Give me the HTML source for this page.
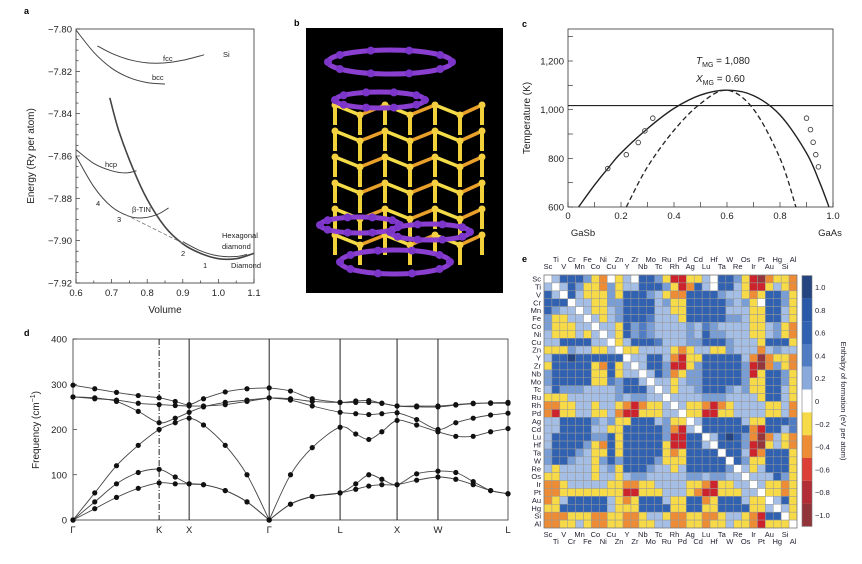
<!DOCTYPE html>
<html><head><meta charset="utf-8"><style>
html,body{margin:0;padding:0;background:#fff;}
svg{display:block;font-family:"Liberation Sans",Arial,sans-serif;}
</style></head><body>
<svg id="fig" width="862" height="564" viewBox="0 0 862 564" xmlns="http://www.w3.org/2000/svg">
<g id="pa"></g>
<g id="pb"></g>
<g id="pc"></g>
<g id="pd"></g>
<g id="pe"></g>
</svg>
<script>
// ---------- Panel a data ----------
const aFcc=[[0.66,-7.808],[0.7,-7.8115],[0.75,-7.8145],[0.8,-7.816],[0.85,-7.816],[0.9,-7.8148],[0.96,-7.8122]];
const aBcc=[[0.6,-7.8005],[0.65,-7.811],[0.7,-7.8185],[0.75,-7.823],[0.8,-7.8253],[0.85,-7.826]];
const aHcp=[[0.6,-7.857],[0.65,-7.8635],[0.7,-7.867],[0.74,-7.868],[0.77,-7.867]];
const aTin=[[0.6,-7.86],[0.65,-7.8745],[0.7,-7.884],[0.75,-7.8885],[0.79,-7.8892],[0.83,-7.8875],[0.86,-7.8845]];
const aDiamond=[[0.695,-7.8325],[0.72,-7.848],[0.76,-7.866],[0.8,-7.8805],[0.85,-7.8935],[0.9,-7.9015],[0.95,-7.906],[1.0,-7.9085],[1.05,-7.9085],[1.1,-7.906]];
const aHex=[[0.9,-7.9005],[0.95,-7.9048],[1.0,-7.9072],[1.05,-7.9075],[1.08,-7.9065]];
const aTangent=[[0.74,-7.8878],[0.9,-7.9012]];
const aYTicks=[-7.80,-7.82,-7.84,-7.86,-7.88,-7.90,-7.92];
const aXTicks=[0.6,0.7,0.8,0.9,1.0,1.1];
// ---------- Panel c data ----------
const cBinodal=[[0.04,600],[0.1,690],[0.15,758],[0.2,822],[0.3,922],[0.4,1005],[0.5,1060],[0.6,1080],[0.7,1058],[0.8,978],[0.9,822],[0.95,700],[0.985,600]];
const cSpinodal=[[0.22,600],[0.3,765],[0.4,915],[0.5,1025],[0.6,1080],[0.7,1002],[0.8,800],[0.86,600]];
const cExpX=[0.15,0.22,0.265,0.29,0.32,0.9,0.915,0.925,0.935,0.945];
const cExpT=[758,815,865,913,965,965,918,866,815,765];
const cLineT=1017;
const cYTicks=[600,800,1000,1200];
const cXTicks=[0,0.2,0.4,0.6,0.8,1.0];
// ---------- Panel d data ----------
const dK=[0,0.05,0.1,0.15,0.198,0.235,0.267,0.3,0.35,0.4,0.451,0.5,0.55,0.614,0.65,0.68,0.71,0.745,0.79,0.839,0.88,0.92,0.96,1];
const dTA1=[0,25,50,70,82,80,80,78,65,40,0,35,52,60,68,75,78,78,88,95,90,78,65,58];
const dTA2=[0,40,80,105,112,95,80,78,65,40,0,35,52,60,80,100,90,78,102,108,105,85,65,58];
const dLA=[0,60,120,165,200,215,225,210,165,100,0,100,160,205,190,178,195,220,210,195,185,185,195,202];
const dLO=[272,270,262,240,215,225,238,250,260,265,270,265,252,238,235,233,235,237,222,200,215,225,232,236];
const dTO1=[298,290,282,275,270,262,255,268,283,290,292,285,268,260,260,260,258,252,252,252,255,258,258,258];
const dTO2=[272,268,265,258,255,253,252,252,255,262,270,268,262,260,263,264,258,252,250,250,254,257,259,260];
const dSymPos=[0,0.198,0.267,0.451,0.614,0.745,0.839,1];
const dSymLabels=["Γ","K","X","Γ","L","X","W","L"];
const dYTicks=[0,100,200,300,400];
// ---------- Panel e data ----------
const eElements=["Sc","Ti","V","Cr","Mn","Fe","Co","Ni","Cu","Zn","Y","Zr","Nb","Mo","Tc","Ru","Rh","Pd","Ag","Cd","Lu","Hf","Ta","W","Re","Os","Ir","Pt","Au","Hg","Si","Al"];
const eValues=[
[0,0.12,0.6,0.6,0.6,0.25,-0.2,-0.4,0,-0.2,0.12,0,0.6,0.6,0.25,-0.2,-0.7,-0.7,-0.2,-0.2,0.12,0,0.6,0.6,0.25,-0.2,-0.7,-0.95,-0.4,-0.2,-0.2,-0.4],
[0.12,0,0.12,0.6,0.25,-0.2,-0.2,-0.4,0.25,-0.2,0.12,0.12,0.6,0.6,0.6,0.25,-0.2,-0.7,-0.4,0.6,0.12,0,0.6,0.6,0.12,-0.2,-0.7,-0.7,-0.2,0.12,-0.2,-0.4],
[0.6,0.12,0,0.6,0.12,-0.2,-0.2,-0.2,0.25,-0.2,0.6,0.6,0.6,0.25,0.12,-0.2,-0.4,-0.4,0.6,0.6,0.6,0.6,0.25,0.12,0.12,-0.2,-0.4,-0.2,0.6,0.6,0.25,-0.2],
[0.6,0.6,0.6,0,0.12,0.12,-0.2,-0.2,0.25,0.25,0.6,0.6,0.6,0.6,0.12,0.25,-0.2,-0.2,0.6,0.6,0.6,0.6,0.6,0.25,0.12,0.25,-0.2,0,0.6,0.6,0.25,-0.2],
[0.6,0.25,0.12,0.12,0,0.12,-0.2,-0.2,0.12,0.25,0.6,0.6,0.6,0.6,0.12,0.12,-0.2,-0.2,0.6,0.6,0.6,0.6,0.6,0.12,0.12,0.12,-0.2,-0.2,0.6,0.6,0.12,-0.2],
[0.25,-0.2,-0.2,0.12,0.12,0,0.12,-0.2,0.12,0.25,0.6,0.6,0.6,0.4,0.12,0.12,0.12,-0.2,0.6,0.6,0.6,0.6,0.6,0.25,0.25,0.12,-0.2,-0.2,0.6,0.6,0.12,-0.2],
[0.25,-0.2,-0.2,-0.2,0.12,0.12,0,0.12,0.12,-0.2,0.6,0.25,0.4,0.25,0.12,0.12,0.12,0.12,0.25,0.12,0.4,0.25,0.12,0.12,0.12,0.12,-0.2,-0.2,0.12,0.25,-0.2,-0.4],
[0.12,-0.2,-0.2,-0.2,0.12,-0.2,0.12,0,0.12,-0.2,0.6,0.25,0.4,0.25,0.12,0.12,0.12,0.12,0.25,0.12,0.6,0.25,0.25,0.12,0.12,0.12,-0.2,-0.2,0.12,0.25,-0.2,-0.4],
[0.12,0.12,0.6,0.6,0.6,0.6,0.12,0.12,0,-0.2,0.12,0.6,0.6,0.6,0.4,0.12,0.12,0.12,0.25,0.25,0.6,0.6,0.6,0.25,0.12,0.12,0.12,-0.2,0.6,0.6,0.6,-0.2],
[-0.2,-0.2,-0.2,0.25,0.12,0.12,-0.2,-0.2,0.12,0,-0.2,-0.2,0.12,0.12,0.12,0.12,-0.2,-0.4,-0.2,0.12,0.12,-0.2,-0.2,0.25,0.12,0.12,0.12,-0.4,0.12,0.25,0.12,0.12],
[0.12,0.6,0.6,1.0,0.6,0.6,0.6,0.6,0.6,0.6,0,0.12,0.12,0.6,0.6,0.12,-0.4,-0.7,-0.2,-0.2,0.6,0.6,0.6,0.6,0.6,0.12,-0.4,-0.95,-0.4,-0.2,-0.2,-0.4],
[-0.2,0.6,0.6,0.6,0.6,0.6,-0.2,-0.4,0.6,-0.2,0.12,0,0.12,0.6,0.6,0.25,-0.7,-0.7,-0.2,0.25,0.6,0.6,0.6,0.6,0.6,0.25,-0.7,-0.95,-0.4,0.25,-0.2,-0.4],
[0.25,0.6,0.6,0.6,0.6,0.6,-0.2,-0.2,0.6,-0.2,0.12,0.12,0,0.12,0.6,0.25,-0.4,-0.2,0.25,0.25,0.6,0.6,0.6,0.6,0.6,0.25,-0.7,-0.2,0.6,0.6,0.25,-0.2],
[0.25,0.6,0.6,0.6,0.6,0.6,-0.2,-0.2,0.4,0.25,0.6,0.6,0.12,0,0.12,0.12,-0.2,0.12,0.25,0.25,0.6,0.6,0.6,0.6,0.6,0.25,-0.2,-0.2,0.6,0.6,0.25,-0.2],
[0.12,0.6,0.25,0.25,0.25,0.12,0.12,0.12,0.12,0.25,0.6,0.6,0.6,0.12,0,0.12,-0.2,0.12,0.12,0.25,0.6,0.6,0.6,0.25,0.12,0.25,-0.2,-0.2,0.6,0.6,0.12,-0.2],
[-0.2,-0.2,-0.2,0.12,0.12,0.12,0.12,0.12,0.12,0.25,0.12,0.25,0.25,0.12,0.12,0,0.12,0.12,0.12,0.12,0.25,0.25,0.25,0.12,0.12,0.12,0.12,-0.2,0.6,0.6,0.12,-0.2],
[-0.4,-0.4,-0.2,-0.2,0.12,0.12,-0.2,0.12,0.12,-0.2,-0.4,-0.7,-0.4,-0.2,-0.2,0.12,0,0.12,-0.2,-0.2,-0.4,-0.7,-0.4,-0.2,0.12,0.12,0.12,0.12,-0.2,-0.2,0.12,-0.4],
[-0.4,-0.7,-0.2,-0.2,0.12,0.12,-0.2,-0.2,0.12,-0.4,-0.7,-0.7,-0.2,-0.2,-0.2,0.12,0.12,0,-0.2,-0.2,-0.7,-0.7,-0.2,-0.2,0.12,0.12,0.12,0.12,-0.2,-0.2,0.12,-0.4],
[0.12,0.12,0.6,0.6,0.6,0.6,0.25,0.12,0.25,-0.2,-0.2,0.6,0.6,0.6,0.12,0.25,-0.2,-0.2,0,0.12,0.6,0.6,0.6,0.6,0.6,0.12,-0.2,-0.2,0.6,0.6,0.6,0.4],
[0.12,0.12,0.6,0.6,0.6,0.6,0.12,0.12,-0.2,-0.2,0.6,0.6,0.6,0.6,0.6,0.25,-0.4,-0.7,0.12,0,0.6,0.6,0.6,0.6,0.6,0.6,-0.4,-0.7,0.6,0.6,0.12,0.4],
[0.12,0.6,0.6,0.6,0.6,0.6,0.25,0.25,0.6,-0.2,0.6,0.6,0.6,0.6,0.6,0.25,-0.7,-0.7,0.6,0.6,0,0.12,0.6,1.0,0.6,0.25,-0.4,-0.95,-0.4,0.12,-0.2,-0.4],
[0.12,0.6,0.6,0.6,0.6,0.25,-0.2,-0.4,0.6,-0.2,0.6,0.6,0.6,0.6,0.6,-0.2,-0.7,-0.7,0.6,0.6,0.12,0,0.6,0.6,0.6,0.25,-0.7,-0.95,-0.2,0.12,-0.2,-0.4],
[0.25,0.6,0.6,0.6,0.25,0.12,-0.2,-0.2,0.6,-0.2,0.6,0.6,0.6,0.6,0.6,-0.2,-0.4,-0.2,0.6,0.6,0.6,0.6,0,0.6,0.6,0.12,-0.7,-0.4,0.6,0.6,0.6,-0.2],
[0.25,0.6,0.6,0.25,0.12,0.12,-0.2,0.25,0.6,0.25,0.6,0.6,0.6,0.6,0.25,-0.2,-0.2,-0.2,0.6,0.6,0.6,0.6,0.6,0,0.6,0.25,-0.2,-0.2,0.6,0.6,0.6,-0.2],
[0.12,-0.2,0.12,0.12,0.12,0.12,-0.2,0.12,0.25,-0.2,0.6,0.6,0.6,0.25,0.12,0.12,-0.2,0.12,0.6,0.6,0.6,0.6,0.6,0.25,0,0.12,-0.2,0.12,0.6,0.6,0.6,-0.2],
[-0.2,-0.2,0.12,0.12,0.12,0.12,-0.2,0.12,0.12,-0.2,0.12,0.25,0.25,0.12,0.12,0.12,0.12,0.12,0.25,0.25,0.12,0.25,0.25,0.12,0.12,0,0.12,0.12,0.12,0.6,0.25,-0.2],
[-0.4,-0.4,-0.2,0.12,0.12,0.12,0.12,0.12,-0.2,-0.2,-0.4,-0.4,-0.2,-0.2,0.12,0.12,0.12,0.12,-0.2,-0.2,-0.4,-0.7,-0.2,-0.2,0.12,0.12,0,0.12,-0.2,-0.2,-0.4,-0.2],
[-0.4,-0.4,-0.2,-0.2,-0.2,-0.2,-0.2,-0.2,-0.2,-0.2,-0.7,-0.7,-0.2,-0.2,-0.2,0.12,0.12,0.12,-0.2,-0.4,-0.7,-0.7,-0.2,-0.2,-0.2,0.12,0.12,0,-0.2,-0.2,-0.4,-0.2],
[-0.4,-0.2,0.12,0.6,0.6,0.6,0.6,0.6,0.12,-0.2,-0.4,-0.2,0.6,0.6,0.6,0.12,-0.2,-0.2,0.6,0.6,-0.4,-0.2,0.6,0.6,0.6,0.12,-0.2,-0.2,0,0.12,0.6,-0.2],
[-0.2,-0.2,0.6,0.6,0.6,0.6,0.6,0.6,0.12,-0.2,-0.2,-0.2,0.6,0.6,0.6,0.6,-0.2,-0.2,0.6,0.6,-0.2,-0.2,0.6,0.6,0.6,0.6,-0.2,-0.2,0.12,0,0.12,-0.2],
[-0.4,-0.4,-0.4,-0.2,-0.2,-0.2,-0.4,-0.4,-0.2,-0.2,-0.4,-0.4,-0.2,0.12,0.12,-0.2,-0.4,-0.4,-0.2,-0.2,-0.4,-0.4,-0.2,0.12,0.12,-0.2,-0.4,-0.7,0.6,0.6,0,-0.2],
[-0.4,-0.4,-0.2,-0.2,0.12,-0.2,-0.4,-0.4,-0.2,-0.2,-0.4,-0.4,-0.2,-0.2,0.12,0.12,-0.4,-0.4,-0.2,-0.2,-0.4,-0.2,-0.2,0.12,-0.2,-0.2,-0.4,-0.7,-0.2,-0.2,-0.2,0]
];
const eBarTicks=[1.0,0.8,0.6,0.4,0.2,0,-0.2,-0.4,-0.6,-0.8,-1.0];

const NS="http://www.w3.org/2000/svg";
function mk(parent,tag,attrs,text){const e=document.createElementNS(NS,tag);for(const k in attrs)e.setAttribute(k,attrs[k]);if(text!==undefined)e.textContent=text;parent.appendChild(e);return e;}
function smooth(pts){let d="M"+pts[0][0].toFixed(1)+","+pts[0][1].toFixed(1);for(let i=0;i<pts.length-1;i++){const p0=pts[Math.max(0,i-1)],p1=pts[i],p2=pts[i+1],p3=pts[Math.min(pts.length-1,i+2)];const c1=[p1[0]+(p2[0]-p0[0])/6,p1[1]+(p2[1]-p0[1])/6],c2=[p2[0]-(p3[0]-p1[0])/6,p2[1]-(p3[1]-p1[1])/6];d+=" C"+c1[0].toFixed(1)+","+c1[1].toFixed(1)+" "+c2[0].toFixed(1)+","+c2[1].toFixed(1)+" "+p2[0].toFixed(1)+","+p2[1].toFixed(1);}return d;}

// ---------- Panel a ----------
(function(){
const g=document.getElementById('pa');
const xs=v=>76+(v-0.6)/0.5*178, ys=e=>29+(-7.80-e)/0.12*254;
let t=mk(g,'text',{x:24,y:14,'font-size':9,'font-weight':'bold'},'a');

let r=mk(g,'rect',{x:76,y:29,width:178,height:254,fill:'none',stroke:'#333','stroke-width':0.8});

for(let k=0;k<=24;k++){const e=-7.80-k*0.005;const y=ys(e);mk(g,'line',{x1:76,x2:76+(k%4==0?4:2.5),y1:y,y2:y,stroke:'#333','stroke-width':0.7});}
aYTicks.forEach(v=>{const tt=mk(g,'text',{x:72,y:ys(v)+3.5,'font-size':9.5,'text-anchor':'end',fill:'#222'},'−'+Math.abs(v).toFixed(2));
});
for(let k=0;k<=10;k++){const x=xs(0.6+k*0.05);mk(g,'line',{x1:x,x2:x,y1:283,y2:283-(k%2==0?4:2.5),stroke:'#333','stroke-width':0.7});}
aXTicks.forEach(v=>{const tt=mk(g,'text',{x:xs(v),y:296,'font-size':9.5,'text-anchor':'middle',fill:'#222'},v.toFixed(1));
});
t=mk(g,'text',{x:165,y:313,'font-size':10,'text-anchor':'middle',fill:'#222'},'Volume');

t=mk(g,'text',{x:0,y:0,'font-size':10,'text-anchor':'middle',fill:'#222',transform:'translate(34,156) rotate(-90)'},'Energy (Ry per atom)');

const curves=[[aFcc,'fcc-curve',1],[aBcc,'bcc-curve',1],[aHcp,'hcp-curve',1],[aTin,'beta-tin-curve',1],[aDiamond,'diamond-curve',1.6],[aHex,'hexagonal-diamond-curve',1]];
curves.forEach(c=>{const p=mk(g,'path',{d:smooth(c[0].map(q=>[xs(q[0]),ys(q[1])])),fill:'none',stroke:'#444','stroke-width':c[2]});
});
const tg=mk(g,'path',{d:'M'+xs(aTangent[0][0])+','+ys(aTangent[0][1])+' L'+xs(aTangent[1][0])+','+ys(aTangent[1][1]),stroke:'#777','stroke-width':0.8,'stroke-dasharray':'4,2'});

const labs=[['Si',223,57],['fcc',163,61],['bcc',152,80],['hcp',105,167],['β-TIN',132,212],['4',96,206],['3',117,222],['2',181,256],['1',203,268],['Hexagonal',222,238],['diamond',222,249],['Diamond',231,268]];
labs.forEach(l=>{const tt=mk(g,'text',{x:l[1],y:l[2],'font-size':7.5,fill:'#222'},l[0]);
});
})();

// ---------- Panel b ----------
(function(){
const g=document.getElementById('pb');
let t=mk(g,'text',{x:294,y:26,'font-size':9,'font-weight':'bold'},'b');

let r=mk(g,'rect',{x:306,y:28,width:197,height:265,fill:'#000'});

const cols=[335,360,385,410,435,460,482];
for(let row=0;row<6;row++){const y=105+row*26;cols.forEach((x,i)=>{const yy=y+(i%2?10:0);
mk(g,'line',{x1:x,y1:yy,x2:x,y2:yy+20,stroke:'#f2d23a','stroke-width':4});
if(i<cols.length-1)mk(g,'line',{x1:x,y1:yy,x2:cols[i+1],y2:y+((i+1)%2?10:0),stroke:i%2?'#e8a02a':'#f4dc48','stroke-width':3.5});
mk(g,'circle',{cx:x,cy:yy,r:3.5,fill:'#f4d040'});});}
[[390,62,62,12],[380,100,45,8],[395,262,55,12],[360,225,40,8],[430,232,40,8]].forEach(e=>{
const el=mk(g,'ellipse',{cx:e[0],cy:e[1],rx:e[2],ry:e[3],fill:'none',stroke:'#8a3fd0','stroke-width':5});

for(let a=0;a<10;a++){const an=a/10*2*Math.PI;mk(g,'circle',{cx:e[0]+e[2]*Math.cos(an),cy:e[1]+e[3]*Math.sin(an),r:4,fill:'#7b35c8'});}});
})();

// ---------- Panel c ----------
(function(){
const g=document.getElementById('pc');
const xs=v=>568+v*265, ys=T=>207-(T-600)/600*146;
let t=mk(g,'text',{x:522,y:27,'font-size':9,'font-weight':'bold'},'c');

let r=mk(g,'rect',{x:568,y:29,width:265,height:178,fill:'none',stroke:'#333','stroke-width':0.8});

for(let T=600;T<=1300;T+=100){mk(g,'line',{x1:568,x2:573,y1:ys(T),y2:ys(T),stroke:'#333','stroke-width':0.7});}
cYTicks.forEach(v=>{const tt=mk(g,'text',{x:564,y:ys(v)+3.5,'font-size':9.5,'text-anchor':'end',fill:'#222'},v.toLocaleString('en-US'));
});
for(let k=0;k<=10;k++){const x=xs(k/10);mk(g,'line',{x1:x,x2:x,y1:207,y2:202,stroke:'#333','stroke-width':0.7});}
cXTicks.forEach(v=>{const tt=mk(g,'text',{x:xs(v),y:219,'font-size':9.5,'text-anchor':'middle',fill:'#222'},v===0?'0':v.toFixed(1));
});
t=mk(g,'text',{x:583,y:236,'font-size':9.5,'text-anchor':'middle',fill:'#222'},'GaSb');
t=mk(g,'text',{x:830,y:236,'font-size':9.5,'text-anchor':'middle',fill:'#222'},'GaAs');
t=mk(g,'text',{x:0,y:0,'font-size':10,'text-anchor':'middle',fill:'#222',transform:'translate(530,118) rotate(-90)'},'Temperature (K)');

let p=mk(g,'path',{d:smooth(cBinodal.map(q=>[xs(q[0]),ys(q[1])])),fill:'none',stroke:'#222','stroke-width':1.4});

p=mk(g,'path',{d:smooth(cSpinodal.map(q=>[xs(q[0]),ys(q[1])])),fill:'none',stroke:'#222','stroke-width':1.3,'stroke-dasharray':'5,3'});

p=mk(g,'line',{x1:568,x2:833,y1:ys(cLineT),y2:ys(cLineT),stroke:'#222','stroke-width':1.1});

cExpX.forEach((x,i)=>{const c=mk(g,'circle',{cx:xs(x),cy:ys(cExpT[i]),r:2.3,fill:'none',stroke:'#444','stroke-width':0.9});
});
t=mk(g,'text',{x:696,y:64,'font-size':10,fill:'#222'});t.innerHTML='<tspan font-style="italic">T</tspan><tspan font-size="7" dy="3">MG</tspan><tspan dy="-3"> = 1,080</tspan>';

t=mk(g,'text',{x:696,y:82,'font-size':10,fill:'#222'});t.innerHTML='<tspan font-style="italic">X</tspan><tspan font-size="7" dy="3">MG</tspan><tspan dy="-3"> = 0.60</tspan>';

})();

// ---------- Panel d ----------
(function(){
const g=document.getElementById('pd');
const xs=k=>73+k*435, ys=f=>520-f/400*181;
let t=mk(g,'text',{x:24,y:336,'font-size':9,'font-weight':'bold'},'d');

let r=mk(g,'rect',{x:73,y:339,width:435,height:181,fill:'none',stroke:'#333','stroke-width':0.8});

dYTicks.forEach(v=>{mk(g,'line',{x1:73,x2:77,y1:ys(v),y2:ys(v),stroke:'#333','stroke-width':0.7});
const tt=mk(g,'text',{x:67,y:ys(v)+3.5,'font-size':9.5,'text-anchor':'end',fill:'#222'},String(v));
});
dSymPos.forEach((k,i)=>{if(i>0&&i<dSymPos.length-1){const l=mk(g,'line',{x1:xs(k),x2:xs(k),y1:339,y2:520,stroke:'#222','stroke-width':1,'stroke-dasharray':dSymLabels[i]==='K'?'6,2,1,2':'none'});
}
const tt=mk(g,'text',{x:xs(k),y:533,'font-size':9.5,'text-anchor':'middle',fill:'#222'},dSymLabels[i]);
});
t=mk(g,'text',{x:0,y:0,'font-size':10,'text-anchor':'middle',fill:'#222',transform:'translate(39,430) rotate(-90)'});
t.innerHTML='Frequency (cm<tspan font-size="7" dy="-4">−1</tspan><tspan dy="4">)</tspan>';

const branches=[[dTA1,'ta1-branch'],[dTA2,'ta2-branch'],[dLA,'la-branch'],[dLO,'lo-branch'],[dTO1,'to1-branch'],[dTO2,'to2-branch']];
const segs=[[0,10],[10,23]];
branches.forEach(b=>{segs.forEach(s=>{const pts=[];for(let i=s[0];i<=s[1];i++)pts.push([xs(dK[i]),ys(b[0][i])]);
const p=mk(g,'path',{d:smooth(pts),fill:'none',stroke:'#444','stroke-width':0.9});
});
b[0].forEach((f,i)=>{const c=mk(g,'circle',{cx:xs(dK[i]),cy:ys(f),r:2.6,fill:'#111'});
});});
})();

// ---------- Panel e ----------
(function(){
const g=document.getElementById('pe');
const n=eElements.length, x0=544, y0=275, cs=253/n;
const stops=[[-1.1,[140,50,55]],[-0.9,[150,55,60]],[-0.7,[205,35,45]],[-0.5,[232,90,60]],[-0.38,[238,150,50]],[-0.28,[245,210,60]],[-0.1,[247,228,85]],[0,[255,255,255]],[0.1,[170,195,232]],[0.3,[105,145,208]],[0.5,[52,102,182]],[0.8,[42,88,168]],[1.1,[35,60,110]]];
function col(v){if(v<=stops[0][0])return 'rgb('+stops[0][1]+')';for(let i=0;i<stops.length-1;i++){const a=stops[i],b=stops[i+1];if(v<=b[0]){const t=(v-a[0])/(b[0]-a[0]);return 'rgb('+a[1].map((c,j)=>Math.round(c+(b[1][j]-c)*t)).join(',')+')';}}return 'rgb('+stops[stops.length-1][1]+')';}
let t=mk(g,'text',{x:522,y:262,'font-size':9,'font-weight':'bold'},'e');

eValues.forEach((row,i)=>row.forEach((v,j)=>{const c=mk(g,'rect',{x:x0+j*cs,y:y0+i*cs,width:cs,height:cs,fill:col(v),stroke:'#999','stroke-width':0.5});
}));
mk(g,'rect',{x:x0,y:y0,width:253,height:253,fill:'none',stroke:'#777','stroke-width':0.7});
eElements.forEach((el,i)=>{const cx=x0+(i+0.5)*cs;
let tt=mk(g,'text',{x:cx,y:i%2?262:269,'font-size':7.5,'text-anchor':'middle',fill:'#223'},el);
tt=mk(g,'text',{x:cx,y:i%2?544:537,'font-size':7.5,'text-anchor':'middle',fill:'#223'},el);
tt=mk(g,'text',{x:541,y:y0+(i+0.5)*cs+2.6,'font-size':7.5,'text-anchor':'end',fill:'#223'},el);});
const bs=v=>287+(1.0-v)/0.2*22.8;
for(let k=0;k<11;k++){const hi=1.1-k*0.2,lo=hi-0.2;const v=(hi+lo)/2;
const c=mk(g,'rect',{x:802,y:bs(hi),width:10,height:bs(lo)-bs(hi),fill:col(Math.abs(v)<0.05?0:v)});
}
mk(g,'rect',{x:802,y:bs(1.1),width:10,height:bs(-1.1)-bs(1.1),fill:'none',stroke:'#777','stroke-width':0.6});
eBarTicks.forEach(v=>{const tt=mk(g,'text',{x:815,y:bs(v)+3,'font-size':7.5,fill:'#223'},v===0?'0':(v<0?'−':'')+Math.abs(v).toFixed(1));
});
t=mk(g,'text',{x:0,y:0,'font-size':7.5,'text-anchor':'middle',fill:'#223',transform:'translate(841,401) rotate(90)'},'Enthalpy of formation (eV per atom)');

})();
</script>
</body></html>
